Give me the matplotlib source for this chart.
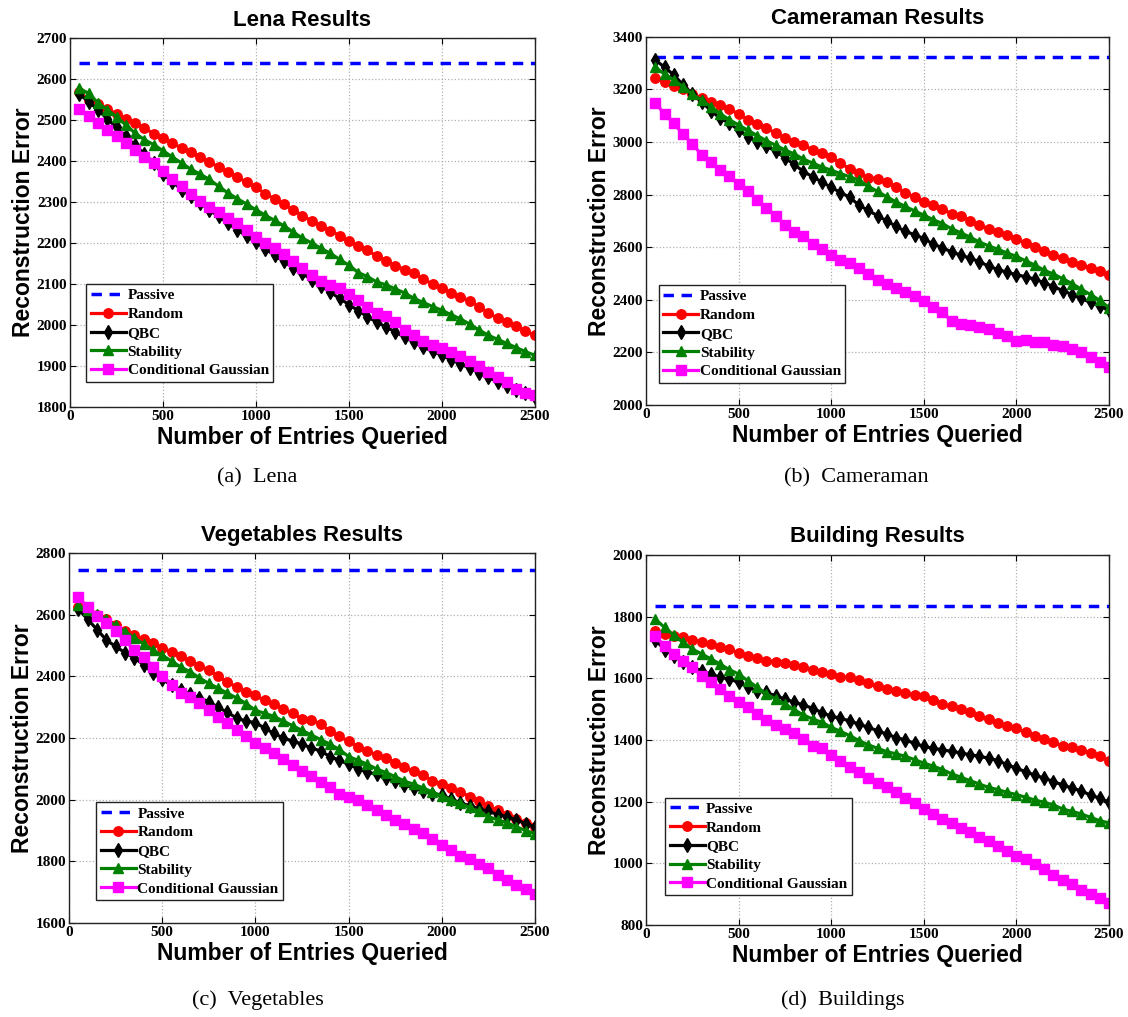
import numpy as np
from matplotlib import pyplot as plt

# number of entries queried (50 .. 2500, every 50)
queried = np.arange(50, 2501, 50)

# ---- Lena ----
lena_passive = 2640
lena_random = [2568, 2550, 2538, 2527, 2515, 2503, 2492, 2480, 2467, 2455,
               2443, 2432, 2421, 2410, 2398, 2385, 2373, 2361, 2348, 2336,
               2320, 2308, 2295, 2281, 2267, 2254, 2242, 2230, 2218, 2205,
               2193, 2182, 2168, 2157, 2145, 2135, 2127, 2112, 2100, 2091,
               2078, 2068, 2059, 2045, 2030, 2016, 2007, 1998, 1985, 1975]
lena_qbc = [2563, 2545, 2525, 2503, 2482, 2460, 2438, 2418, 2395, 2368,
            2350, 2330, 2315, 2298, 2280, 2265, 2248, 2232, 2217, 2202,
            2186, 2170, 2155, 2140, 2126, 2110, 2095, 2080, 2065, 2050,
            2035, 2020, 2007, 1995, 1983, 1970, 1958, 1946, 1936, 1926,
            1915, 1905, 1895, 1883, 1872, 1862, 1852, 1842, 1833, 1825]
lena_stability = [2577, 2565, 2542, 2525, 2508, 2488, 2468, 2452, 2440, 2425,
                  2410, 2395, 2380, 2368, 2355, 2338, 2322, 2308, 2295, 2281,
                  2268, 2255, 2242, 2227, 2212, 2200, 2187, 2175, 2160, 2146,
                  2128, 2118, 2105, 2098, 2088, 2078, 2065, 2055, 2045, 2036,
                  2025, 2015, 2002, 1988, 1975, 1965, 1955, 1945, 1935, 1926]
lena_cg = [2527, 2510, 2492, 2476, 2460, 2443, 2428, 2410, 2395, 2375,
           2355, 2338, 2320, 2303, 2288, 2275, 2262, 2248, 2232, 2215,
           2200, 2187, 2172, 2155, 2140, 2122, 2108, 2098, 2090, 2075,
           2062, 2043, 2030, 2022, 2008, 1988, 1975, 1962, 1952, 1945,
           1935, 1925, 1912, 1900, 1885, 1872, 1860, 1845, 1835, 1830]

# ---- Cameraman ----
cam_passive = 3324
cam_random = [3245, 3228, 3215, 3200, 3182, 3168, 3152, 3140, 3125, 3108,
              3085, 3068, 3052, 3035, 3015, 3000, 2990, 2970, 2957, 2942,
              2920, 2898, 2882, 2865, 2860, 2848, 2828, 2808, 2790, 2772,
              2760, 2745, 2727, 2718, 2700, 2685, 2670, 2657, 2645, 2630,
              2618, 2600, 2585, 2572, 2558, 2545, 2532, 2520, 2508, 2495]
cam_qbc = [3312, 3285, 3255, 3218, 3183, 3153, 3120, 3090, 3072, 3046,
           3020, 3000, 2985, 2965, 2940, 2915, 2888, 2868, 2848, 2828,
           2808, 2790, 2760, 2740, 2720, 2700, 2680, 2660, 2648, 2633,
           2612, 2598, 2582, 2570, 2558, 2545, 2528, 2515, 2505, 2495,
           2488, 2478, 2465, 2450, 2435, 2420, 2405, 2390, 2376, 2360]
cam_stability = [3285, 3258, 3237, 3210, 3182, 3160, 3135, 3108, 3085, 3065,
                 3045, 3025, 3005, 2988, 2970, 2955, 2935, 2920, 2905, 2893,
                 2880, 2868, 2855, 2832, 2812, 2792, 2772, 2755, 2738, 2722,
                 2705, 2690, 2670, 2655, 2638, 2620, 2605, 2592, 2578, 2565,
                 2548, 2532, 2512, 2498, 2480, 2462, 2440, 2420, 2398, 2370]
cam_cg = [3150, 3106, 3071, 3030, 2993, 2952, 2924, 2895, 2870, 2840,
          2812, 2781, 2750, 2718, 2684, 2659, 2642, 2611, 2594, 2569,
          2551, 2541, 2522, 2500, 2475, 2459, 2446, 2431, 2415, 2396,
          2371, 2352, 2320, 2307, 2303, 2295, 2288, 2275, 2263, 2244,
          2246, 2238, 2238, 2228, 2225, 2212, 2200, 2181, 2165, 2145]

# ---- Vegetables ----
veg_passive = 2746
veg_random = [2625, 2612, 2598, 2585, 2568, 2548, 2533, 2520, 2508, 2493,
              2478, 2465, 2450, 2435, 2420, 2400, 2382, 2365, 2350, 2338,
              2322, 2312, 2295, 2280, 2262, 2260, 2245, 2222, 2205, 2190,
              2172, 2158, 2145, 2135, 2120, 2105, 2092, 2080, 2062, 2050,
              2038, 2025, 2010, 1995, 1978, 1965, 1950, 1938, 1925, 1912]
veg_qbc = [2618, 2585, 2552, 2518, 2497, 2477, 2460, 2438, 2412, 2390,
           2372, 2357, 2342, 2330, 2318, 2300, 2283, 2265, 2255, 2250,
           2232, 2215, 2200, 2190, 2180, 2168, 2158, 2140, 2128, 2115,
           2100, 2090, 2082, 2070, 2060, 2048, 2038, 2028, 2020, 2015,
           2002, 1990, 1980, 1970, 1962, 1952, 1945, 1935, 1922, 1912]
veg_stability = [2630, 2615, 2603, 2585, 2565, 2545, 2525, 2505, 2485, 2468,
                 2450, 2430, 2415, 2395, 2377, 2362, 2345, 2330, 2312, 2290,
                 2280, 2270, 2255, 2240, 2225, 2210, 2195, 2180, 2163, 2140,
                 2128, 2115, 2100, 2088, 2075, 2060, 2050, 2038, 2025, 2012,
                 2000, 1988, 1975, 1962, 1945, 1935, 1925, 1912, 1900, 1890]
veg_cg = [2657, 2625, 2595, 2573, 2546, 2517, 2486, 2463, 2432, 2402,
          2373, 2346, 2333, 2314, 2292, 2268, 2249, 2227, 2205, 2184,
          2168, 2151, 2132, 2114, 2092, 2076, 2059, 2041, 2019, 2008,
          2000, 1984, 1968, 1949, 1933, 1921, 1905, 1892, 1872, 1854,
          1838, 1818, 1808, 1791, 1778, 1757, 1741, 1724, 1710, 1695]

# ---- Building ----
bld_passive = 1836
bld_random = [1755, 1744, 1738, 1733, 1725, 1719, 1711, 1703, 1695, 1682,
              1673, 1666, 1657, 1654, 1650, 1644, 1636, 1628, 1622, 1614,
              1603, 1603, 1596, 1585, 1574, 1565, 1558, 1552, 1547, 1541,
              1529, 1516, 1509, 1502, 1491, 1479, 1468, 1455, 1446, 1438,
              1425, 1414, 1403, 1392, 1381, 1376, 1368, 1358, 1347, 1333]
bld_qbc = [1725, 1693, 1673, 1652, 1636, 1625, 1614, 1603, 1598, 1587,
           1571, 1560, 1554, 1543, 1533, 1522, 1514, 1502, 1489, 1477,
           1470, 1462, 1451, 1441, 1430, 1419, 1408, 1400, 1389, 1379,
           1373, 1368, 1363, 1358, 1352, 1347, 1341, 1333, 1320, 1308,
           1297, 1286, 1276, 1265, 1254, 1244, 1235, 1221, 1211, 1198]
bld_stability = [1792, 1765, 1740, 1717, 1695, 1679, 1663, 1646, 1628, 1614,
                 1592, 1571, 1549, 1533, 1517, 1498, 1481, 1468, 1457, 1441,
                 1428, 1414, 1398, 1384, 1373, 1362, 1355, 1347, 1336, 1325,
                 1315, 1304, 1290, 1279, 1268, 1257, 1246, 1239, 1230, 1223,
                 1214, 1205, 1198, 1189, 1176, 1168, 1160, 1149, 1138, 1131]
bld_cg = [1736, 1706, 1679, 1657, 1636, 1609, 1587, 1565, 1544, 1522,
          1506, 1484, 1466, 1449, 1436, 1422, 1403, 1382, 1373, 1351,
          1333, 1311, 1295, 1278, 1262, 1246, 1230, 1211, 1195, 1176,
          1160, 1143, 1130, 1116, 1101, 1086, 1072, 1055, 1039, 1025,
          1014, 999, 982, 963, 947, 934, 912, 901, 887, 871]

SANS = 'Liberation Sans'
SERIF = 'Liberation Serif'

panels = [
    # title, caption, passive, random, qbc, stability, cg, ylim, yticks, axes rect, legend anchor, caption xy
    ('Lena Results', '(a)  Lena', lena_passive, lena_random, lena_qbc, lena_stability, lena_cg,
     (1800, 2700), np.arange(1800, 2701, 100), [0.0621, 0.5998, 0.412, 0.3628], (0.035, 0.068), (0.228, 0.530)),
    ('Cameraman Results', '(b)  Cameraman', cam_passive, cam_random, cam_qbc, cam_stability, cam_cg,
     (2000, 3400), np.arange(2000, 3401, 200), [0.5727, 0.6018, 0.4105, 0.3619], (0.027, 0.060), (0.759, 0.530)),
    ('Vegetables Results', '(c)  Vegetables', veg_passive, veg_random, veg_qbc, veg_stability, veg_cg,
     (1600, 2800), np.arange(1600, 2801, 200), [0.0612, 0.0924, 0.413, 0.3638], (0.058, 0.062), (0.229, 0.017)),
    ('Building Results', '(d)  Buildings', bld_passive, bld_random, bld_qbc, bld_stability, bld_cg,
     (800, 2000), np.arange(800, 2001, 200), [0.5727, 0.0905, 0.4105, 0.3638], (0.041, 0.080), (0.747, 0.017)),
]

fig = plt.figure(figsize=(11.28, 10.17), dpi=100)

for (title, caption, passive, rnd, qbc, stab, cg, ylim, yticks, rect, leg_xy, cap_xy) in panels:
    ax = fig.add_axes(rect)
    ax.plot([queried[0], queried[-1]], [passive, passive], '--', color='#0000ff', lw=2.5,
            dashes=(3, 2.2), label='Passive')
    ax.plot(queried, rnd, '-o', color='#ff0000', lw=2.3, ms=6.8, label='Random')
    ax.plot(queried, qbc, '-d', color='black', lw=2.3, ms=7.2, label='QBC')
    ax.plot(queried, stab, '-^', color='#008000', lw=2.3, ms=7.8, label='Stability')
    ax.plot(queried, cg, '-s', color='#ff00ff', lw=2.3, ms=6.8, label='Conditional Gaussian')

    ax.set_xlim(0, 2500)
    ax.set_ylim(*ylim)
    ax.set_xticks(np.arange(0, 2501, 500))
    ax.set_yticks(yticks)
    ax.grid(True, linestyle=':', color='#b0b0b0', lw=0.9)
    ax.tick_params(direction='in', top=True, right=True, length=4, width=0.8, pad=2)
    for lab in ax.get_xticklabels() + ax.get_yticklabels():
        lab.set_fontfamily(SERIF)
        lab.set_fontweight('bold')
        lab.set_fontsize(11)
    for sp in ax.spines.values():
        sp.set_linewidth(1.0)
        sp.set_color('#222222')

    ax.set_title(title, fontfamily=SANS, fontweight='bold', fontsize=16, pad=9)
    ax.set_xlabel('Number of Entries Queried', fontfamily=SANS, fontweight='bold', fontsize=16.5, labelpad=2)
    ax.set_ylabel('Reconstruction Error', fontfamily=SANS, fontweight='bold', fontsize=16.5, labelpad=1)

    leg = ax.legend(loc='lower left', bbox_to_anchor=leg_xy, fancybox=False, framealpha=1,
                    edgecolor='#222222', borderpad=0.3, labelspacing=0.33, handlelength=2.3,
                    handletextpad=0.1, borderaxespad=0,
                    prop={'family': SERIF, 'weight': 'bold', 'size': 11})
    leg.get_frame().set_linewidth(1.0)

    fig.text(cap_xy[0], cap_xy[1], caption, ha='center', va='center',
             fontfamily=SERIF, fontsize=16)

fig.savefig('out.png', dpi=100)
